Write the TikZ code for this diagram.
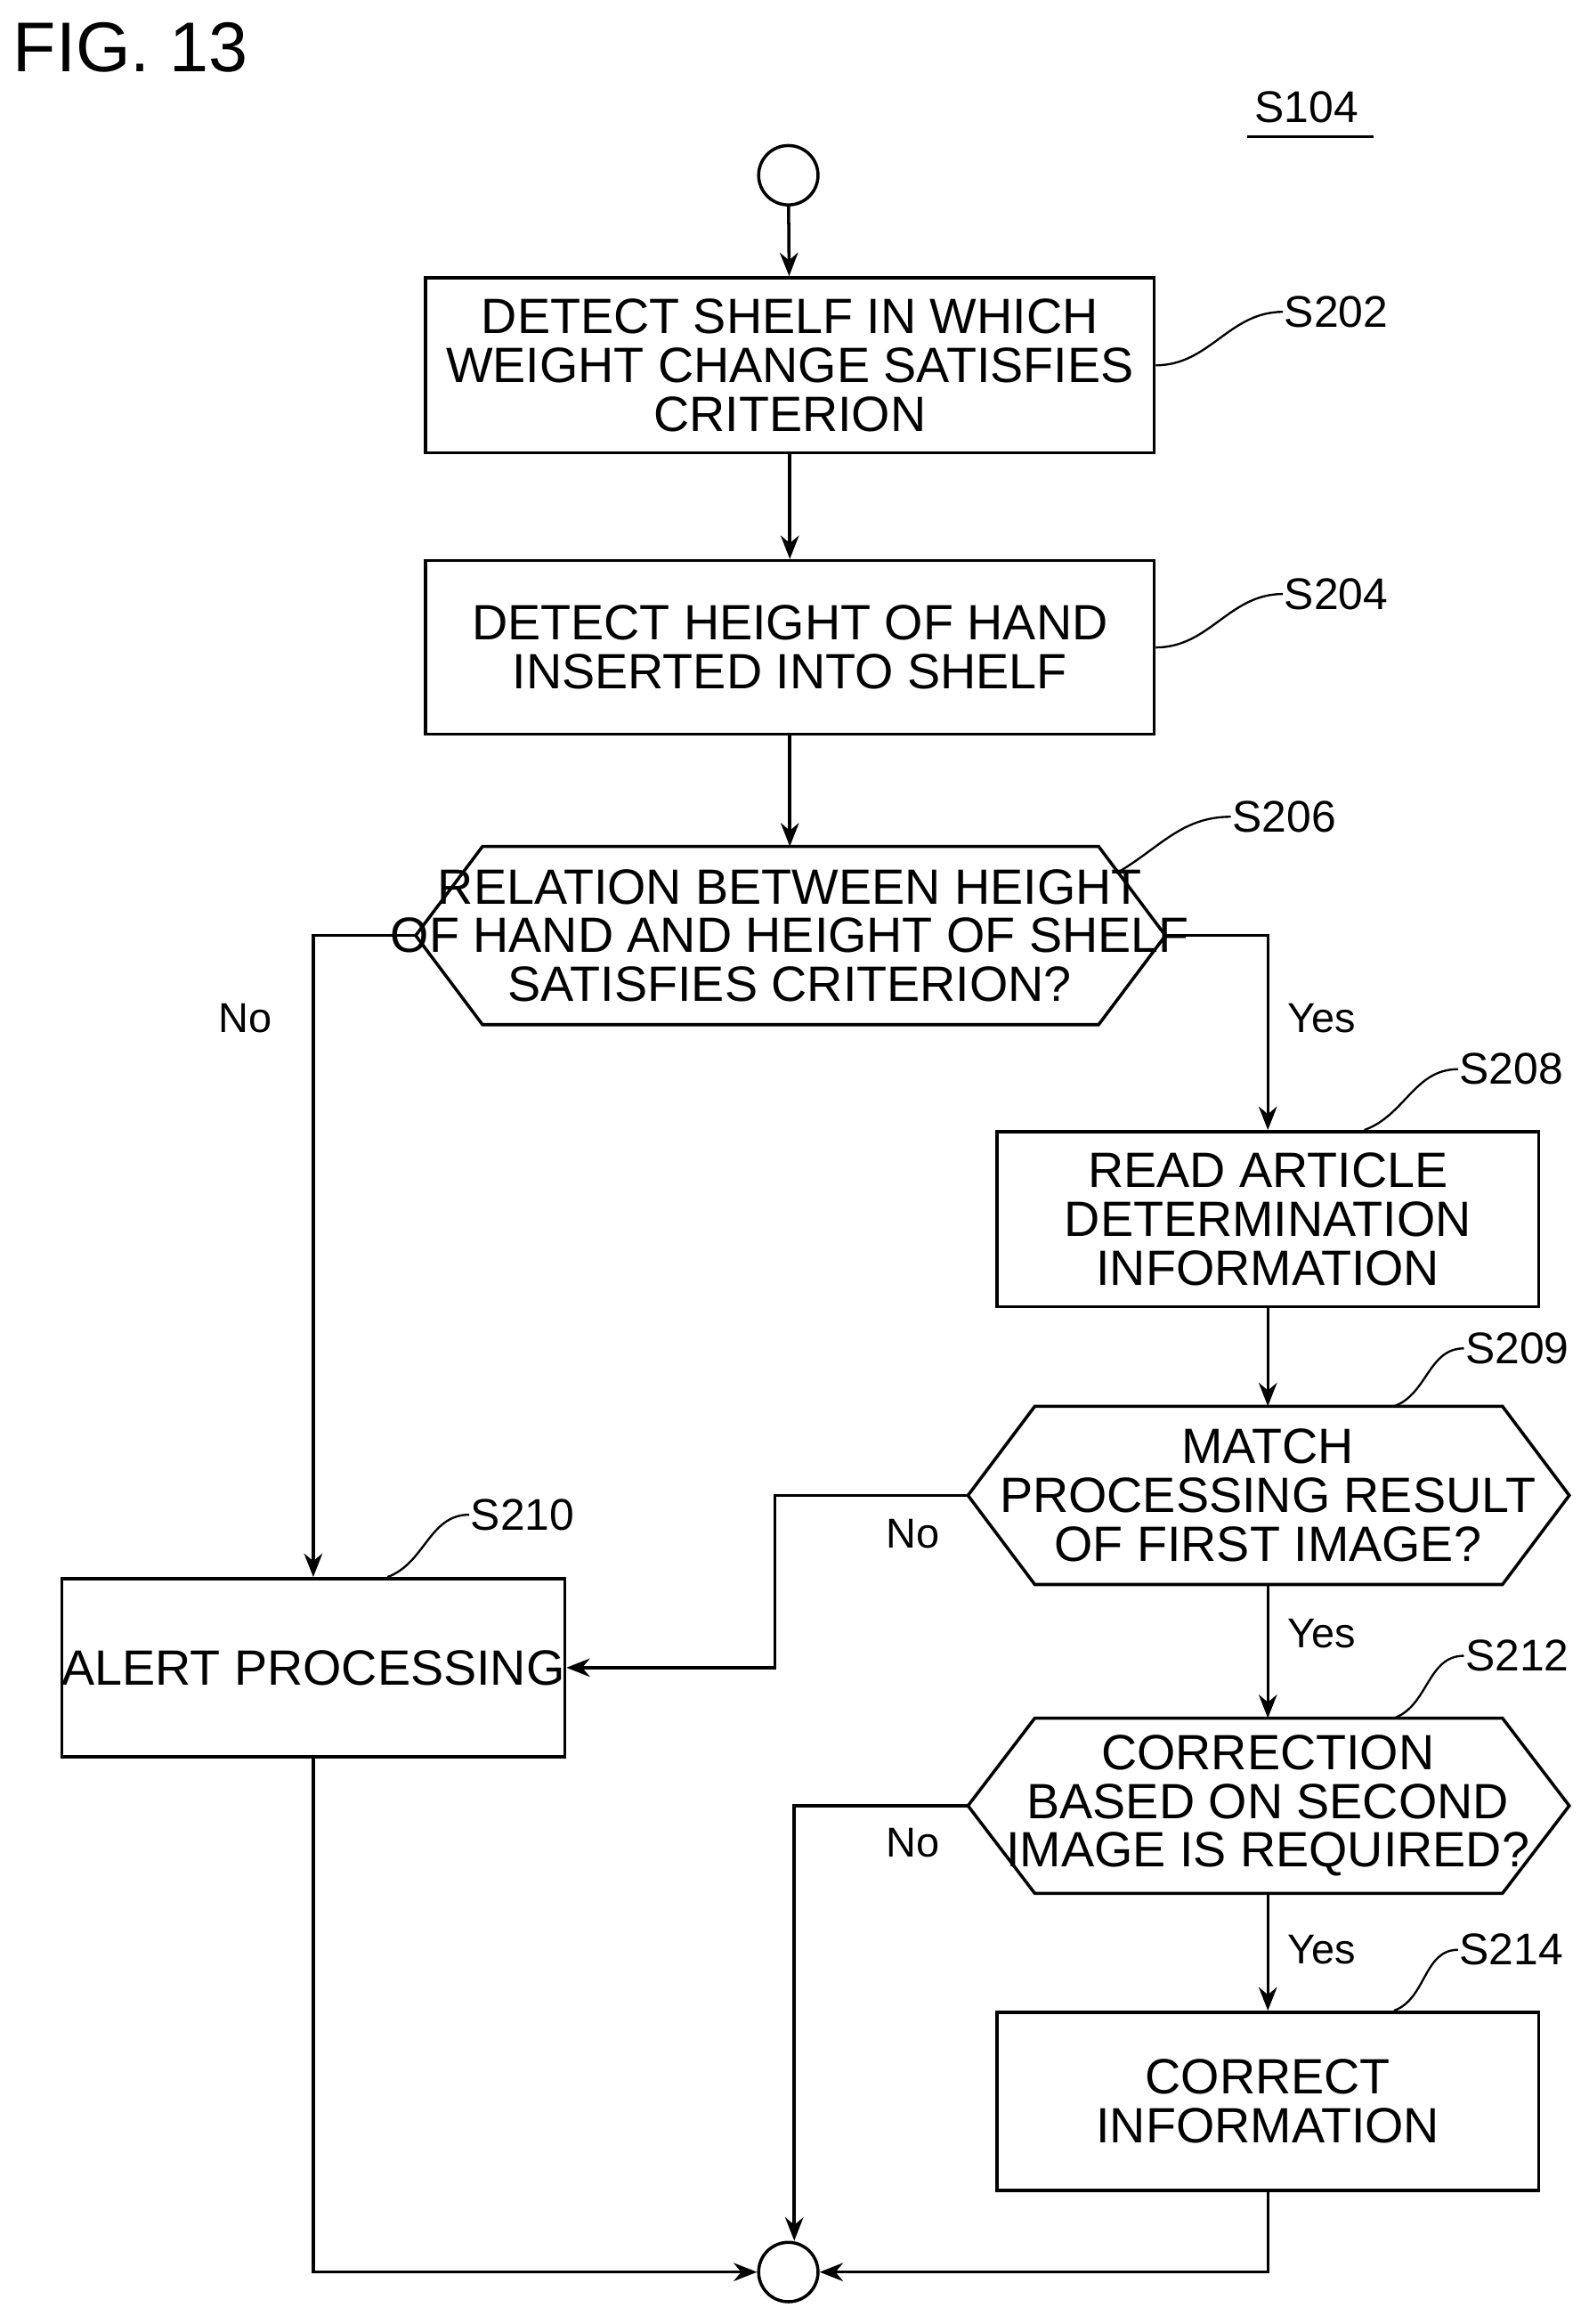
\documentclass[tikz,border=0pt]{standalone}
\usepackage{fontspec}
\setmainfont{Liberation Sans}
\usetikzlibrary{arrows.meta}
\begin{document}
\begin{tikzpicture}[x=0.02cm, y=-0.02cm, line width=1.2pt,
    font=\fontsize{19}{18.7}\selectfont]

  % Styles
  \tikzset{
    box/.style={rectangle, draw, align=center, inner sep=0pt},
    txt/.style={align=center, inner sep=0pt},
    lbl/.style={inner sep=0pt, font=\fontsize{17}{17}\selectfont},
    yn/.style={inner sep=0pt, font=\fontsize{16}{16}\selectfont},
    term/.style={circle, draw, minimum size=0.8cm, inner sep=0pt},
    arr/.style={-{Stealth[length=9pt,width=7pt]}},
    tick/.style={line width=0.8pt}
  }

  \useasboundingbox (0,0) rectangle (1070,1565);

  % Titles
  \node[inner sep=0pt, font=\fontsize{27}{27}\selectfont] (fig) at (88,32) {FIG. 13};
  \node[lbl] (s104) at (880,72) {S104};
  \draw[tick] (840,92) -- (925,92);

  % Nodes
  \node[term] (start) at (531,118) {};
  \node[box, minimum width=9.82cm, minimum height=2.36cm] (s202) at (532,246)
    {DETECT SHELF IN WHICH\\WEIGHT CHANGE SATISFIES\\CRITERION};
  \node[box, minimum width=9.82cm, minimum height=2.34cm] (s204) at (532,436)
    {DETECT HEIGHT OF HAND\\INSERTED INTO SHELF};
  \node[txt] (s206) at (532,630)
    {RELATION BETWEEN HEIGHT\\OF HAND AND HEIGHT OF SHELF\\SATISFIES CRITERION?};
  \draw (280,630) -- (325,570) -- (740,570) -- (785,630) -- (740,690) -- (325,690) -- cycle;
  \coordinate (s206w) at (280,630);
  \coordinate (s206e) at (785,630);
  \coordinate (s206t) at (752,588);
  \node[box, minimum width=7.3cm, minimum height=2.36cm] (s208) at (854,821)
    {READ ARTICLE\\DETERMINATION\\INFORMATION};
  \node[txt] (s209) at (854,1007)
    {MATCH\\PROCESSING RESULT\\OF FIRST IMAGE?};
  \draw (652,1007) -- (697,947) -- (1012,947) -- (1057,1007) -- (1012,1067) -- (697,1067) -- cycle;
  \coordinate (s209w) at (652,1007);
  \coordinate (s209t) at (854,1067);
  \coordinate (s209n) at (854,947);
  \node[box, minimum width=6.44cm, minimum height=2.4cm] (s210) at (211,1123)
    {ALERT PROCESSING};
  \node[txt] (s212) at (854,1216)
    {CORRECTION\\BASED ON SECOND\\IMAGE IS REQUIRED?};
  \draw (652,1216) -- (697,1157) -- (1012,1157) -- (1057,1216) -- (1012,1275) -- (697,1275) -- cycle;
  \coordinate (s212w) at (652,1216);
  \coordinate (s212b) at (854,1275);
  \coordinate (s212n) at (854,1157);
  \node[box, minimum width=7.3cm, minimum height=2.4cm] (s214) at (854,1415)
    {CORRECT\\INFORMATION};
  \node[term] (stop) at (531,1530) {};

  % Step labels
  \node[lbl] (l202) at (900,210) {S202};
  \node[lbl] (l204) at (900,400) {S204};
  \node[lbl] (l206) at (865,550) {S206};
  \node[lbl] (l208) at (1018,720) {S208};
  \node[lbl] (l209) at (1022,908) {S209};
  \node[lbl] (l210) at (352,1020) {S210};
  \node[lbl] (l212) at (1022,1115) {S212};
  \node[lbl] (l214) at (1018,1313) {S214};

  \draw[tick] (s202.east) to[out=0,in=180] (l202.west);
  \draw[tick] (s204.east) to[out=0,in=180] (l204.west);
  \draw[tick] (s206t) to[out=30,in=180] (l206.west);
  \draw[tick] ([xshift=1.3cm]s208.north) to[out=20,in=180] (l208.west);
  \draw[tick] ([xshift=1.7cm]s209n) to[out=20,in=180] (l209.west);
  \draw[tick] ([xshift=1cm]s210.north) to[out=20,in=180] (l210.west);
  \draw[tick] ([xshift=1.7cm]s212n) to[out=20,in=180] (l212.west);
  \draw[tick] ([xshift=1.7cm]s214.north) to[out=20,in=180] (l214.west);

  % Flow
  \draw[arr] (start) -- (s202);
  \draw[arr] (s202) -- (s204);
  \draw[arr] (s204) -- (s206.north |- 0,570);
  \draw[arr] (s206w) -| (s210.north);
  \node[yn] (no1) at (165,686) {No};
  \draw[arr] (s206e) -| (s208.north);
  \node[yn] (yes1) at (890,686) {Yes};
  \draw[arr] (s208) -- (s209n);
  \draw[arr] (s209w) -- (522,1007) |- (s210.east);
  \node[yn] (no2) at (615,1033) {No};
  \draw[arr] (s209t) -- (s212n);
  \node[yn] (yes2) at (890,1100) {Yes};
  \draw[arr] (s212w) -- (535,1216) -- (stop.north -| 535,0);
  \node[yn] (no3) at (615,1241) {No};
  \draw[arr] (s212b) -- (s214);
  \node[yn] (yes3) at (890,1313) {Yes};
  \draw[arr] (s214.south) |- (stop.east);
  \draw[arr] (s210.south) |- (stop.west);

\end{tikzpicture}
\end{document}
